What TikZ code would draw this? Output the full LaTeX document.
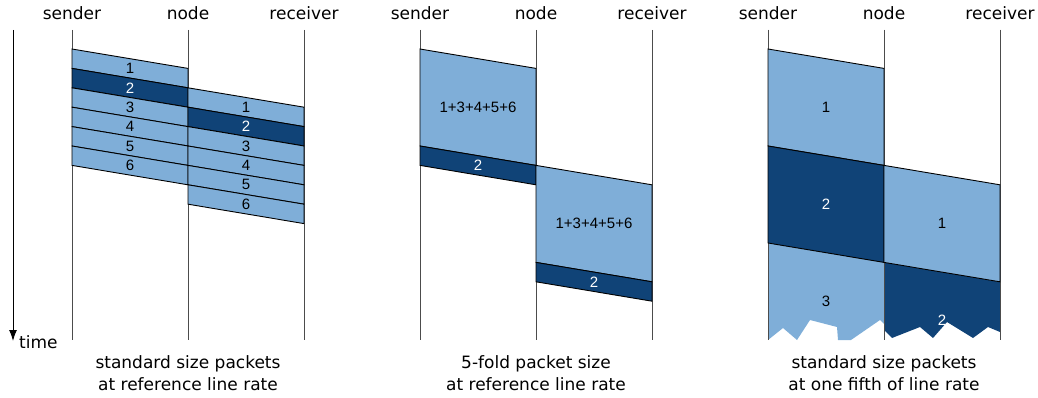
\documentclass[tikz,border=0pt]{standalone}
\usepackage{fontspec}
\setmainfont{DejaVu Sans}
\newfontfamily\pktfont{Liberation Sans}
\usetikzlibrary{arrows.meta}
\definecolor{lightpkt}{RGB}{127,174,216}
\definecolor{darkpkt}{RGB}{16,67,119}
\def\drop{19.4}
\newcommand\pkt[7]{% #1 name, #2 x, #3 top, #4 height, #5 fill, #6 text colour, #7 text
  \filldraw[pktbox, fill=#5] (#2,#3) -- ++(116,\drop) -- ++(0,#4) -- ++(-116,-\drop) -- cycle;
  \node[pnum, text=#6] (#1) at ({#2+58},{#3+(\drop+#4)/2}) {#7};}
\begin{document}
\begin{tikzpicture}[x=1pt,y=-1pt,
  lane/.style={draw=black!70, line width=1pt},
  lbl/.style={font=\fontsize{17}{20}\selectfont, anchor=base, inner sep=0pt},
  pnum/.style={font=\pktfont\fontsize{15}{18}\selectfont, inner sep=0pt},
  pktbox/.style={draw=black, line width=0.9pt}]
\useasboundingbox (0,0) rectangle (1038,398);

% time axis
\coordinate (t0) at (13,30);
\coordinate (t1) at (13,341);
\draw[-{Latex[length=11pt,width=8pt]}, line width=1pt] (t0) -- (t1);
\node[lbl, anchor=base west] (time) at (19,348) {time};

% lanes and headings
\foreach \o/\n in {0/a,348/b,696/c}{
  \foreach \dx/\lab in {0/sender,116/node,232/receiver}{
    \coordinate (\n\lab top) at ({72+\o+\dx},30);
    \coordinate (\n\lab bot) at ({72+\o+\dx},340);
    \draw[lane] (\n\lab top) -- (\n\lab bot);
    \node[lbl] (\n\lab) at ({72+\o+\dx},20) {\lab};
  }
}

% captions
\node[lbl] (capa1) at (188,368) {standard size packets};
\node[lbl] (capa2) at (188,390) {at reference line rate};
\node[lbl] (capb1) at (536,368) {5-fold packet size};
\node[lbl] (capb2) at (536,390) {at reference line rate};
\node[lbl] (capc1) at (884,368) {standard size packets};
\node[lbl] (capc2) at (884,390) {at one fifth of line rate};

% left panel: hop 1
\pkt{a11}{72}{49}{\drop}{lightpkt}{black}{1}
\pkt{a12}{72}{68.4}{\drop}{darkpkt}{white}{2}
\pkt{a13}{72}{87.8}{\drop}{lightpkt}{black}{3}
\pkt{a14}{72}{107.2}{\drop}{lightpkt}{black}{4}
\pkt{a15}{72}{126.6}{\drop}{lightpkt}{black}{5}
\pkt{a16}{72}{146}{\drop}{lightpkt}{black}{6}
% left panel: hop 2
\pkt{a21}{188}{87.8}{\drop}{lightpkt}{black}{1}
\pkt{a22}{188}{107.2}{\drop}{darkpkt}{white}{2}
\pkt{a23}{188}{126.6}{\drop}{lightpkt}{black}{3}
\pkt{a24}{188}{146}{\drop}{lightpkt}{black}{4}
\pkt{a25}{188}{165.4}{\drop}{lightpkt}{black}{5}
\pkt{a26}{188}{184.8}{\drop}{lightpkt}{black}{6}

% middle panel
\pkt{b11}{420}{49}{97}{lightpkt}{black}{1+3+4+5+6}
\pkt{b12}{420}{146}{\drop}{darkpkt}{white}{2}
\pkt{b21}{536}{165.4}{97}{lightpkt}{black}{1+3+4+5+6}
\pkt{b22}{536}{262.4}{\drop}{darkpkt}{white}{2}

% right panel: cut-off packets
\fill[lightpkt] (768,243) -- (884,262.4) -- (884,324) -- (880,320) -- (851,340) -- (838,340)
  -- (837,327) -- (810,320) -- (797,340) -- (783,328) -- (768,340) -- cycle;
\node[pnum] (c13) at (826,301) {3};
\fill[darkpkt] (884,262.4) -- (1000,281.8) -- (1000,332) -- (988,327) -- (973,338) -- (947,322)
  -- (933,338) -- (920,327) -- (892,338) -- (884,330) -- cycle;
\node[pnum, text=white] (c22) at (942,320) {2};
\draw[lane] (csendertop) -- (csenderbot);
\draw[lane] (cnodetop) -- (cnodebot);
\draw[lane] (creceivertop) -- (creceiverbot);

% right panel: full packets
\pkt{c11}{768}{49}{97}{lightpkt}{black}{1}
\pkt{c12}{768}{146}{97}{darkpkt}{white}{2}
\pkt{c21}{884}{165.4}{97}{lightpkt}{black}{1}
\end{tikzpicture}
\end{document}
